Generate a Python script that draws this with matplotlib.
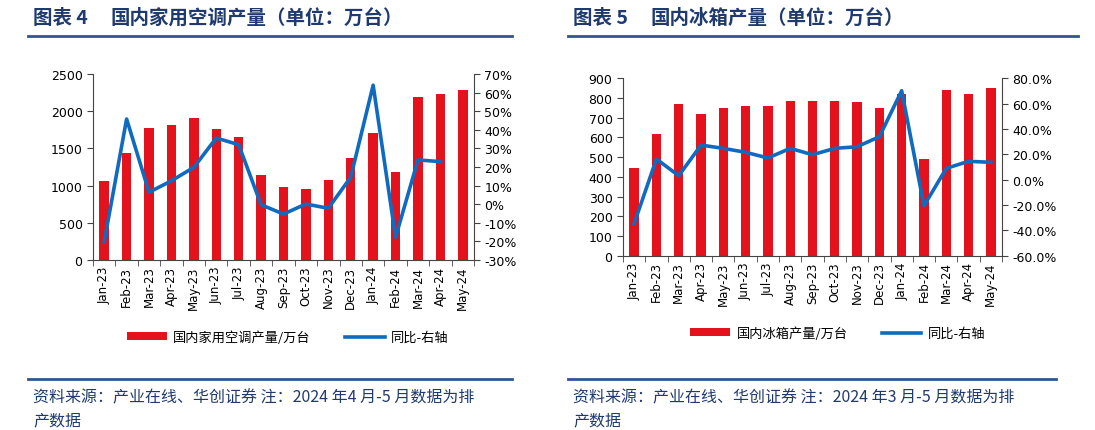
import matplotlib
matplotlib.use("Agg")
import matplotlib.pyplot as plt
from matplotlib.lines import Line2D
from matplotlib.patches import Patch
from matplotlib.ticker import FuncFormatter, MultipleLocator

plt.rcParams['font.family'] = ['Noto Sans CJK SC', 'DejaVu Sans']

months = ['Jan-23', 'Feb-23', 'Mar-23', 'Apr-23', 'May-23', 'Jun-23', 'Jul-23', 'Aug-23',
          'Sep-23', 'Oct-23', 'Nov-23', 'Dec-23', 'Jan-24', 'Feb-24', 'Mar-24', 'Apr-24', 'May-24']

# chart 4: air conditioners
ac_output = [1066, 1434, 1774, 1815, 1909, 1761, 1653, 1142, 977, 954, 1075, 1367,
             1707, 1179, 2187, 2231, 2285]
ac_yoy = [-20.2, 45.8, 6.4, 12.6, 19.8, 35.6, 32.0, -0.3, -5.3, 0.1, -2.2, 14.5,
          64.0, -17.8, 23.8, 22.9]  # no May-24 value

# chart 5: refrigerators
fr_output = [447, 617, 772, 718, 750, 762, 758, 785, 785, 783, 782, 751,
             822, 490, 840, 820, 850]
fr_yoy = [-34.6, 16.3, 3.1, 27.3, 24.7, 21.6, 17.1, 24.7, 19.7, 24.7, 26.0, 33.9,
          70.2, -20.6, 8.9, 14.5, 13.7]

RED = '#E3121C'
BLUE = '#0F6BC0'
NAVY = '#1F3A6E'
W, H = 1095, 431

fig = plt.figure(figsize=(W / 100, H / 100), dpi=100)


def px(x0, y0, x1, y1):
    return [x0 / W, 1 - y1 / H, (x1 - x0) / W, (y1 - y0) / H]


def draw_panel(rect, output, yoy, ymax, ystep, rlim, rstep, rfmt):
    ax = fig.add_axes(rect)
    x = list(range(len(months)))
    ax.bar(x, output, width=0.42, color=RED, zorder=2)
    ax.set_xlim(-0.5, len(months) - 0.5)
    ax.set_ylim(0, ymax)
    ax.yaxis.set_major_locator(MultipleLocator(ystep))
    ax.set_xticks(x)
    ax.set_xticklabels(months, rotation=90, fontsize=8.5, family='DejaVu Sans')
    ax.tick_params(axis='x', length=0, pad=4)
    ax.set_xticks([i + 0.5 for i in range(-1, len(months))], minor=True)
    ax.tick_params(axis='x', which='minor', length=4, color='#444444')
    ax.tick_params(axis='y', labelsize=9, length=4, color='#444444')
    for lab in ax.get_yticklabels():
        lab.set_family('DejaVu Sans')
    ax.spines['top'].set_visible(False)
    ax.spines['right'].set_visible(False)
    for s in ['left', 'bottom']:
        ax.spines[s].set_color('#444444')

    ax2 = ax.twinx()
    ax2.plot(range(len(yoy)), yoy, color=BLUE, lw=2.6, zorder=3)
    ax2.set_ylim(*rlim)
    ax2.yaxis.set_major_locator(MultipleLocator(rstep))
    ax2.yaxis.set_major_formatter(FuncFormatter(rfmt))
    ax2.tick_params(axis='y', labelsize=9, length=4, color='#444444')
    for lab in ax2.get_yticklabels():
        lab.set_family('DejaVu Sans')
    ax2.spines['top'].set_visible(False)
    ax2.spines['left'].set_visible(False)
    ax2.spines['bottom'].set_visible(False)
    ax2.spines['right'].set_color('#444444')
    return ax


ax1 = draw_panel(px(93, 75, 474, 261), ac_output, ac_yoy, 2500, 500, (-30, 70), 10,
                 lambda v, p: f'{v:.0f}%')
ax2 = draw_panel(px(623, 79.3, 1002, 256.7), fr_output, fr_yoy, 900, 100, (-60, 80), 20,
                 lambda v, p: f'{v:.1f}%')

# legends
for cx, cy, lab in [(288, 338, '国内家用空调产量/万台'), (838, 334, '国内冰箱产量/万台')]:
    handles = [Patch(facecolor=RED, edgecolor='none'), Line2D([], [], color=BLUE, lw=2.6)]
    fig.legend(handles, [lab, '同比-右轴'], loc='center', bbox_to_anchor=(cx / W, 1 - cy / H),
               ncol=2, frameon=False, fontsize=9.5, handlelength=3.0, handleheight=0.5,
               columnspacing=2.6, handletextpad=0.5)

# titles, rules, footers
for x0, x1, fx1, num, title, note in [
        (28, 512, 512, '图表 4', '国内家用空调产量（单位：万台）', '2024 年4 月-5 月数据为排'),
        (568, 1078, 1056, '图表 5', '国内冰箱产量（单位：万台）', '2024 年3 月-5 月数据为排')]:
    fig.text((x0 + 5) / W, 1 - 18 / H, num, fontsize=14, fontweight='bold', color=NAVY,
             va='center', ha='left')
    fig.text((x0 + 82) / W, 1 - 18 / H, title, fontsize=14, fontweight='bold', color=NAVY,
             va='center', ha='left')
    fig.add_artist(Line2D([x0 / W, x1 / W], [1 - 37 / H, 1 - 37 / H], color='#2F5597', lw=2))
    fig.add_artist(Line2D([x0 / W, fx1 / W], [1 - 380 / H, 1 - 380 / H], color='#2F5597', lw=2))
    fig.text((x0 + 5) / W, 1 - 398 / H, '资料来源：产业在线、华创证券 注：' + note, fontsize=11.5,
             color=NAVY, va='center', ha='left', style='italic')
    fig.text((x0 + 5) / W, 1 - 421 / H, '产数据', fontsize=11.5, color=NAVY, va='center',
             ha='left', style='italic')

fig.savefig('out.png', dpi=100)
